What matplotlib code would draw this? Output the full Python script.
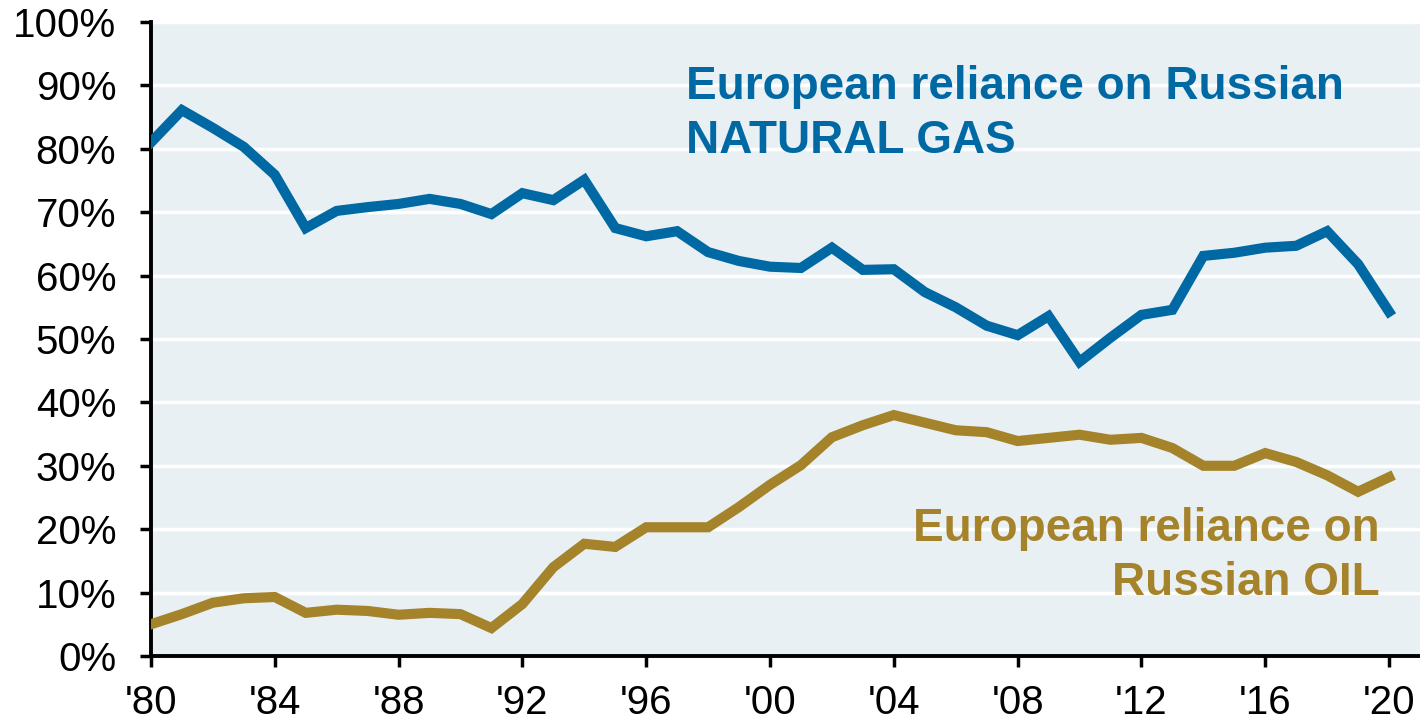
import matplotlib.pyplot as plt
import numpy as np

plt.rcParams['font.family'] = ['Liberation Sans', 'DejaVu Sans']

years = np.arange(1980, 2021)

# reliance on russian natural gas, % of european imports
gas = [81.0, 86.1, 83.3, 80.3, 75.9, 67.5, 70.2, 70.8, 71.3, 72.1,
       71.3, 69.7, 73.0, 71.9, 75.1, 67.5, 66.2, 67.0, 63.7, 62.3,
       61.4, 61.2, 64.4, 60.9, 61.0, 57.4, 55.0, 52.1, 50.6, 53.6,
       46.4, 50.2, 53.8, 54.6, 63.1, 63.6, 64.4, 64.7, 67.0, 61.8,
       54.3]

# reliance on russian oil
oil = [5.0, 6.6, 8.4, 9.1, 9.3, 6.8, 7.3, 7.1, 6.5, 6.8,
       6.6, 4.4, 8.2, 14.0, 17.7, 17.2, 20.3, 20.3, 20.3, 23.5,
       27.0, 30.1, 34.5, 36.4, 38.0, 36.8, 35.6, 35.3, 33.9, 34.4,
       34.9, 34.1, 34.4, 32.8, 30.0, 30.0, 32.0, 30.6, 28.5, 25.9,
       28.2]

xticks = np.arange(1980, 2021, 4)
xlabels = ["'%02d" % (y % 100) for y in xticks]
yticks = np.arange(0, 101, 10)

gas_col = '#0068a3'
oil_col = '#a5832a'

fig = plt.figure(figsize=(14.2, 7.21), dpi=100)
ax = fig.add_axes([0.1063, 0.0902, 0.8937, 0.8793])
ax.set_facecolor('#e9f0f4')

ax.plot(years, gas, color=gas_col, lw=7.3, solid_joinstyle='miter', zorder=3)
ax.plot(years, oil, color=oil_col, lw=7.3, solid_joinstyle='miter', zorder=3)

ax.set_xlim(1980, 2021)
ax.set_ylim(0, 100)
ax.set_xticks(xticks)
ax.set_xticklabels(xlabels)
ax.set_yticks(yticks)
ax.set_yticklabels(['%d%%' % v for v in yticks])

ax.yaxis.grid(True, color='white', lw=2.5)
ax.set_axisbelow(True)

for s in ['top', 'right']:
    ax.spines[s].set_visible(False)
for s in ['left', 'bottom']:
    ax.spines[s].set_linewidth(2.8)
    ax.spines[s].set_color('black')

ax.tick_params(axis='y', length=8, width=2.5, pad=17, labelsize=29)
ax.tick_params(axis='x', length=8, width=2.5, pad=12, labelsize=29)

ax.text(1997.3, 79.3, 'European reliance on Russian\nNATURAL GAS', color=gas_col,
        fontsize=33, fontweight='bold', ha='left', va='baseline',
        linespacing=1.3)
ax.text(2019.7, 9.6, 'European reliance on\nRussian OIL', color=oil_col,
        fontsize=33, fontweight='bold', ha='right', va='baseline',
        multialignment='right', linespacing=1.3)

fig.savefig('out.png', dpi=100)
